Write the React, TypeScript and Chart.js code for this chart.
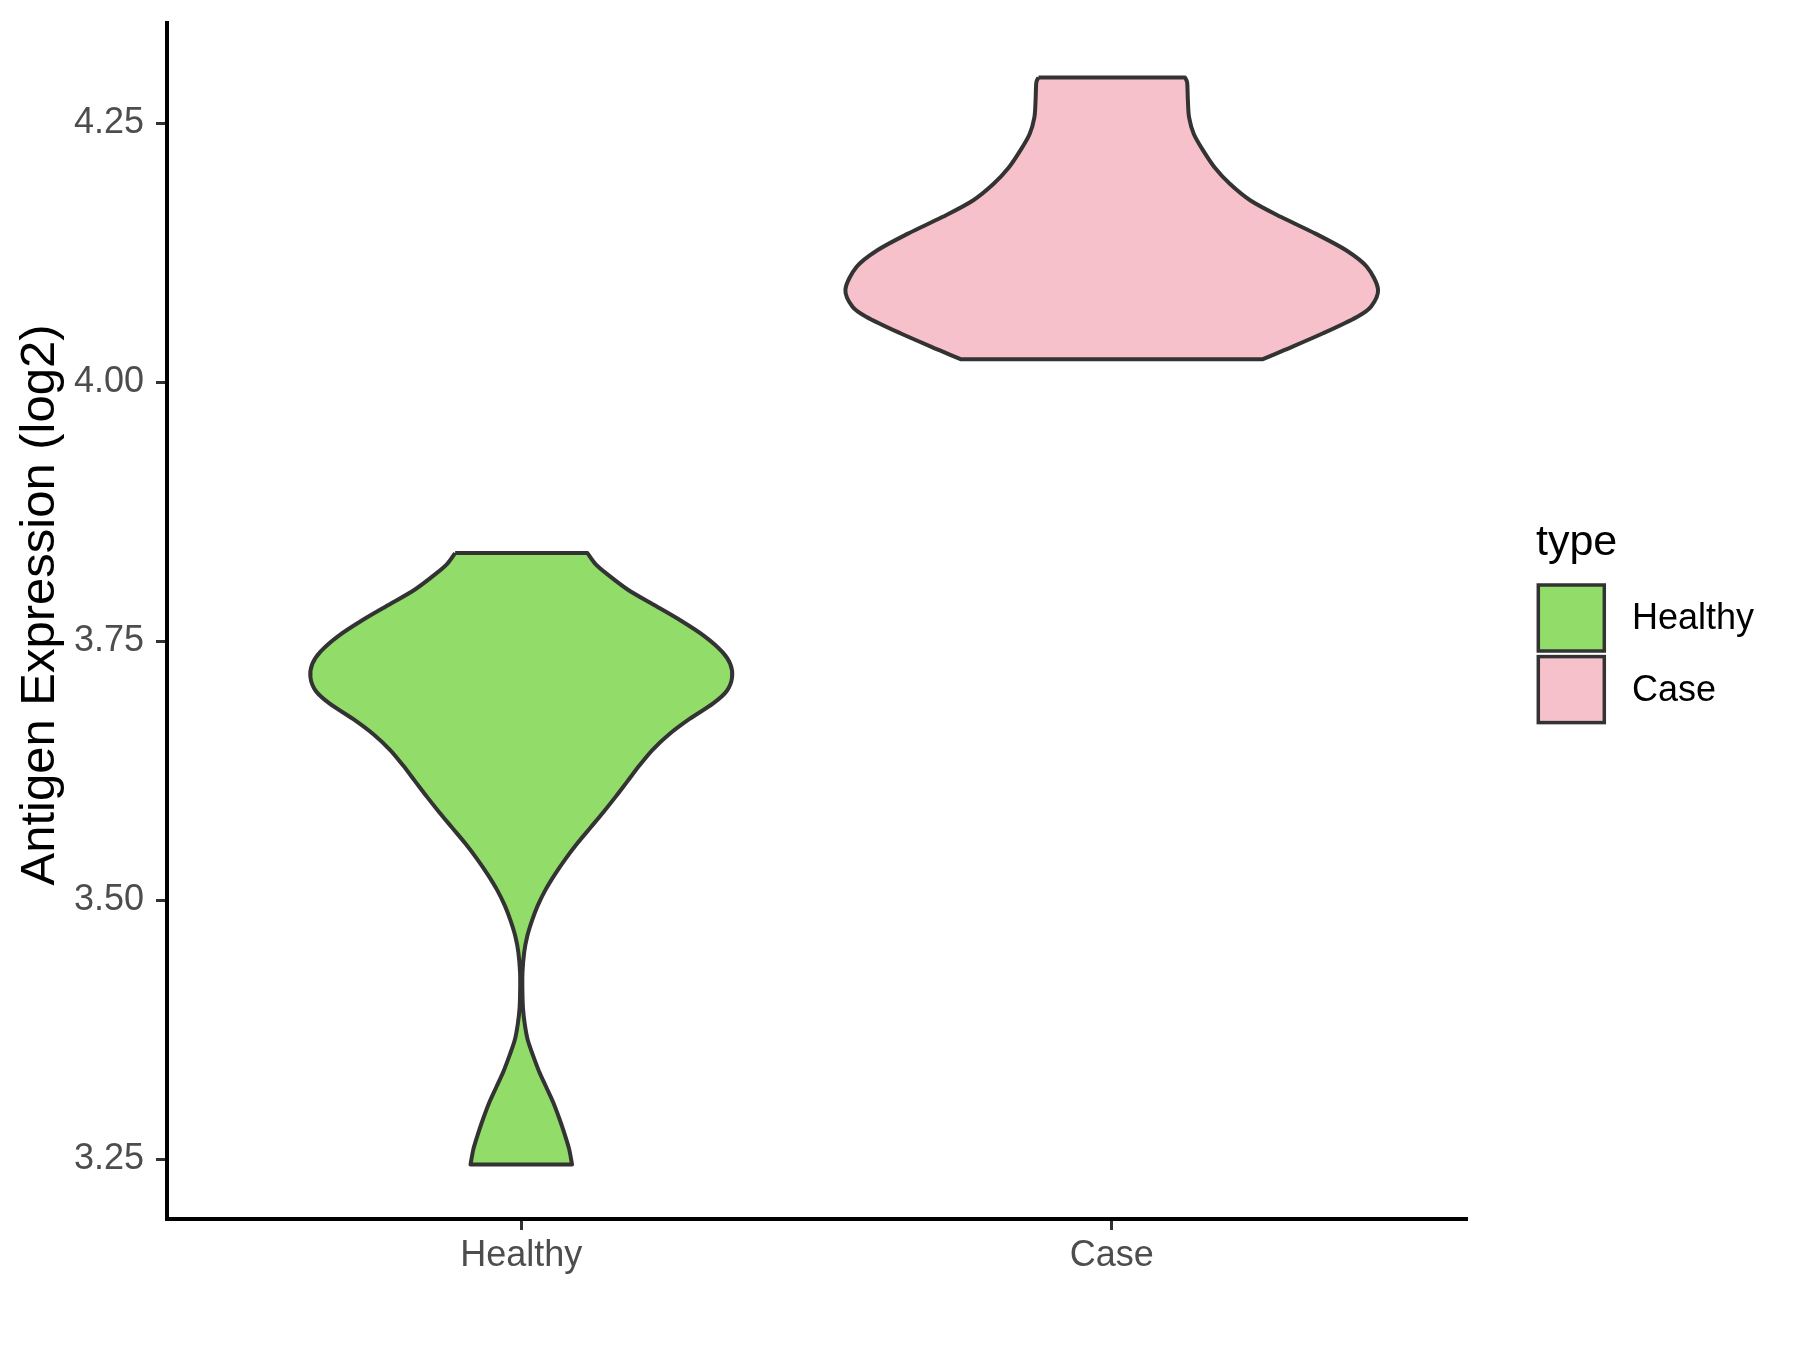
import React, { useEffect, useRef } from "react";
import { Chart, registerables } from "chart.js";

Chart.register(...registerables);

// ---- data ----
const categories = ["Healthy", "Case"];
const categoryPositions = [1, 2];
const fillColors = ["#92DC6A", "#F7C1CB"];
const yTicks = [3.25, 3.5, 3.75, 4.0, 4.25];
const legendTitle = "type";
const yAxisTitle = "Antigen Expression (log2)";

// violin outlines: y values (top -> bottom) and half-widths (x units)
const healthyY = [
  3.8351, 3.825, 3.815, 3.8, 3.785, 3.77, 3.755, 3.74, 3.728, 3.715, 3.702, 3.69,
  3.675, 3.66, 3.645, 3.63, 3.615, 3.6, 3.585, 3.57, 3.555, 3.54, 3.525, 3.51,
  3.495, 3.48, 3.465, 3.45, 3.43, 3.41, 3.395, 3.38, 3.365, 3.35, 3.335, 3.32,
  3.305, 3.29, 3.275, 3.26, 3.2448,
];
const healthyHalfWidth = [
  0.112, 0.125, 0.145, 0.18, 0.225, 0.27, 0.31, 0.34, 0.354, 0.357, 0.348, 0.325,
  0.285, 0.25, 0.222, 0.2, 0.18, 0.16, 0.139, 0.117, 0.095, 0.075, 0.057, 0.041,
  0.028, 0.018, 0.01, 0.005, 0.002, 0.002, 0.003, 0.006, 0.011, 0.02, 0.03, 0.042,
  0.054, 0.064, 0.073, 0.081, 0.086,
];
const caseY = [
  4.2943, 4.291, 4.2878, 4.2718, 4.2557, 4.2397, 4.2236, 4.2076, 4.1916, 4.1755,
  4.1595, 4.1435, 4.1274, 4.1114, 4.0895, 4.0729, 4.0633, 4.0473, 4.0312, 4.0223,
];
const caseHalfWidth = [
  0.124, 0.127, 0.128, 0.129, 0.131, 0.139, 0.155, 0.174, 0.2, 0.235,
  0.287, 0.345, 0.397, 0.432, 0.451, 0.439, 0.416, 0.358, 0.293, 0.256,
];

const yMin = 3.1923;
const yMax = 4.3468;
const xMin = 0.4;
const xMax = 2.6;

// closed outline; corner points doubled so the flat ends stay straight
function outline(center: number, ys: number[], ws: number[]) {
  const left = ys.map((y, i) => ({ x: center - ws[i], y }));
  const right = ys.map((y, i) => ({ x: center + ws[i], y })).reverse();
  const lb = left[left.length - 1];
  const rb = right[0];
  const rt = right[right.length - 1];
  const lt = left[0];
  return [lt, ...left, lb, rb, ...right, rt, lt, lt];
}

const FONT = '"Liberation Sans", Arial, sans-serif';

const overlayPlugin = {
  id: "ggOverlay",
  afterDraw(chart: any) {
    const ctx = chart.ctx;
    ctx.save();
    // y axis title
    ctx.save();
    ctx.translate(40, 605);
    ctx.rotate(-Math.PI / 2);
    ctx.fillStyle = "#000000";
    ctx.font = `49px ${FONT}`;
    ctx.textAlign = "center";
    ctx.textBaseline = "middle";
    ctx.fillText(yAxisTitle, 0, 0);
    ctx.restore();
    // legend
    ctx.fillStyle = "#000000";
    ctx.textAlign = "left";
    ctx.textBaseline = "alphabetic";
    ctx.font = `43px ${FONT}`;
    ctx.fillText(legendTitle, 1536, 555);
    chart.data.datasets.forEach((ds: any, i: number) => {
      const bx = 1538.3;
      const by = 585 + i * 71.6;
      ctx.fillStyle = ds.backgroundColor;
      ctx.fillRect(bx, by, 66, 66);
      ctx.strokeStyle = "#333333";
      ctx.lineWidth = 3.5;
      ctx.strokeRect(bx, by, 66, 66);
      ctx.fillStyle = "#000000";
      ctx.font = `36px ${FONT}`;
      ctx.textBaseline = "middle";
      ctx.fillText(ds.label, 1632, by + 34);
      ctx.textBaseline = "alphabetic";
    });
    ctx.restore();
  },
};

export default function App() {
  const ref = useRef<HTMLCanvasElement | null>(null);

  useEffect(() => {
    if (!ref.current) return;
    const series = [
      { ys: healthyY, ws: healthyHalfWidth },
      { ys: caseY, ws: caseHalfWidth },
    ];
    const chart = new Chart(ref.current, {
      type: "scatter",
      data: {
        datasets: categories.map((c, i) => ({
          label: c,
          data: outline(categoryPositions[i], series[i].ys, series[i].ws),
          showLine: true,
          fill: "shape",
          backgroundColor: fillColors[i],
          borderColor: "#333333",
          borderWidth: 4,
          pointRadius: 0,
          pointHoverRadius: 0,
          tension: 0.3,
          borderJoinStyle: "round",
        })),
      },
      plugins: [overlayPlugin],
      options: {
        responsive: false,
        animation: false,
        events: [],
        layout: { padding: { left: 0, top: 23, right: 334, bottom: 0 } },
        plugins: {
          legend: { display: false },
          tooltip: { enabled: false },
          title: { display: false },
        },
        scales: {
          x: {
            type: "linear",
            min: xMin,
            max: xMax,
            afterBuildTicks: (scale: any) => {
              scale.ticks = categoryPositions.map((v) => ({ value: v }));
            },
            afterFit: (scale: any) => {
              scale.height = 131;
            },
            grid: {
              drawOnChartArea: false,
              drawTicks: true,
              tickLength: 11,
              color: "#333333",
              lineWidth: 3,
            },
            border: { display: true, color: "#000000", width: 4 },
            ticks: {
              autoSkip: false,
              maxRotation: 0,
              padding: 4,
              color: "#4D4D4D",
              font: { family: FONT, size: 36 },
              callback: (value: any) => {
                const idx = categoryPositions.indexOf(Number(value));
                return idx >= 0 ? categories[idx] : "";
              },
            },
          },
          y: {
            type: "linear",
            min: yMin,
            max: yMax,
            afterBuildTicks: (scale: any) => {
              scale.ticks = yTicks.map((v) => ({ value: v }));
            },
            afterFit: (scale: any) => {
              scale.width = 167;
            },
            grid: {
              drawOnChartArea: false,
              drawTicks: true,
              tickLength: 11,
              color: "#333333",
              lineWidth: 3,
            },
            border: { display: true, color: "#000000", width: 4 },
            ticks: {
              autoSkip: false,
              padding: 12,
              color: "#4D4D4D",
              font: { family: FONT, size: 36, lineHeight: 0.4 },
              callback: (value: any) => Number(value).toFixed(2),
            },
            title: { display: false },
          },
        },
      },
    } as any);
    return () => chart.destroy();
  }, []);

  return (
    <div style={{ position: "absolute", left: 0, top: 0, width: 1800, height: 1350, background: "#ffffff" }}>
      <canvas ref={ref} width={1800} height={1350} style={{ width: 1800, height: 1350, display: "block" }} />
    </div>
  );
}
